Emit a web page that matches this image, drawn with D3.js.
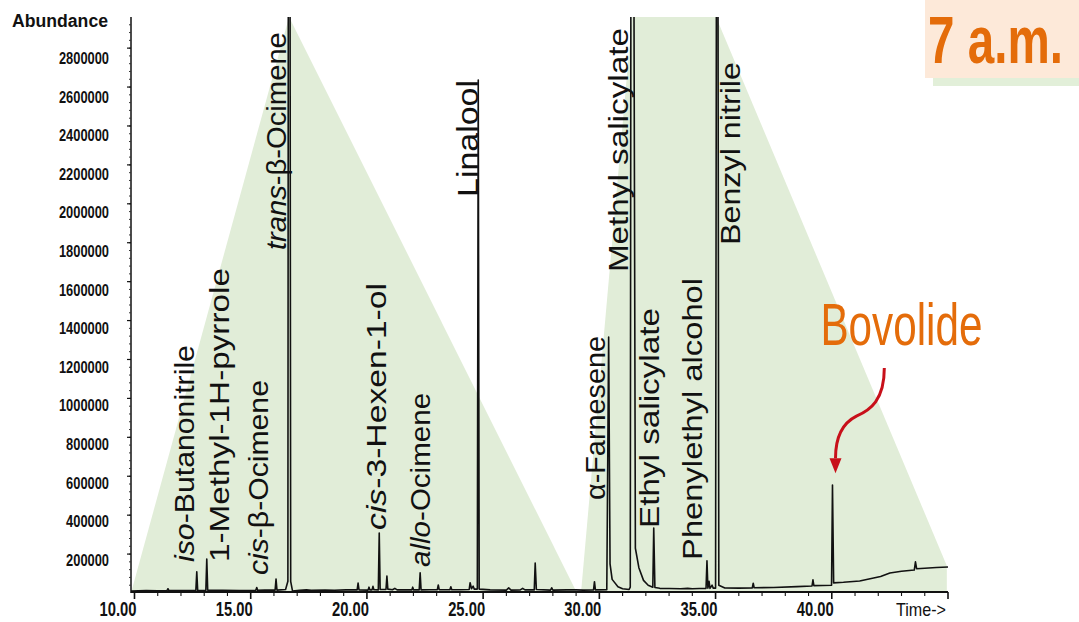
<!DOCTYPE html>
<html>
<head>
<meta charset="utf-8">
<script src="https://cdn.jsdelivr.net/npm/d3@7"></script>
<style>
  html, body { margin: 0; padding: 0; background: #fff; }
  svg { display: block; }
  text { font-family: "Liberation Sans", Arial, Helvetica, sans-serif; }
</style>
</head>
<body>
<svg id="chart" width="1079" height="622"></svg>
<script>
// ---- data -------------------------------------------------------------
// y-axis tick values (abundance)
const yTicks = [200000, 400000, 600000, 800000, 1000000, 1200000, 1400000,
                1600000, 1800000, 2000000, 2200000, 2400000, 2600000, 2800000];
// x-axis tick values (retention time, min)
const xTicks = [10, 15, 20, 25, 30, 35, 40];
const xTickLabels = ["10.00", "15.00", "20.00", "25.00", "30.00", "35.00", "40.00"];

// total ion chromatogram trace: [retention time (min), abundance]
const trace = [
  [9.85, 10000], [10.5, 12000], [11.0, 11000], [11.40, 12000], [11.44, 22000], [11.48, 12000],
  [12.0, 13000], [12.64, 13000], [12.68, 109000], [12.72, 12000],
  [13.07, 13000], [13.11, 175000], [13.15, 14000],
  [13.8, 14000], [14.5, 13000], [15.22, 14000], [15.26, 28000], [15.30, 14000],
  [15.6, 15000], [16.05, 15000], [16.09, 72000], [16.13, 15000],
  [16.5, 18000], [16.60, 60000], [16.62, 3500000], [16.69, 3500000], [16.72, 60000], [16.8, 10000],
  [17.1, 14000], [17.4, 16000], [17.6, 14000], [18.2, 15000], [18.6, 14000], [19.1, 16000],
  [19.58, 16000], [19.62, 51000], [19.66, 16000],
  [20.05, 15000], [20.09, 30000], [20.13, 16000],
  [20.22, 16000], [20.26, 34000], [20.30, 17000],
  [20.49, 16000], [20.53, 308000], [20.57, 18000],
  [20.82, 18000], [20.86, 87000], [20.90, 20000],
  [21.1, 17000], [21.2, 24000], [21.3, 16000],
  [21.93, 16000], [21.97, 30000], [22.01, 16000],
  [22.25, 16000], [22.29, 104000], [22.33, 16000],
  [22.7, 17000], [23.03, 17000], [23.07, 41000], [23.11, 17000],
  [23.57, 17000], [23.61, 32000], [23.65, 17000], [24.0, 17000],
  [24.40, 18000], [24.44, 53000], [24.50, 22000], [24.57, 35000], [24.62, 20000],
  [24.75, 20000], [24.79, 2636000], [24.83, 20000],
  [25.3, 16000], [26.0, 15000], [26.1, 26000], [26.2, 15000],
  [26.6, 16000], [26.7, 24000], [26.8, 16000],
  [27.20, 16000], [27.24, 154000], [27.29, 18000],
  [27.9, 15000], [27.95, 27000], [28.0, 15000], [28.6, 16000], [29.0, 16000], [29.3, 15000],
  [29.75, 16000], [29.79, 58000], [29.83, 16000],
  [30.32, 17000], [30.40, 1315000], [30.46, 150000], [30.55, 70000], [30.8, 32000], [31.0, 22000],
  [31.28, 18000], [31.33, 30000], [31.36, 3500000], [31.48, 3500000], [31.55, 230000],
  [31.7, 130000], [31.9, 65000], [32.1, 40000], [32.3, 30000],
  [32.34, 334000], [32.39, 28000], [32.6, 24000], [33.0, 23000], [33.5, 22000], [33.8, 24000],
  [34.0, 22000], [34.3, 23000], [34.59, 24000], [34.63, 165000], [34.67, 25000],
  [34.72, 60000], [34.76, 24000], [34.85, 40000], [34.9, 25000],
  [35.0, 25000], [35.04, 3500000], [35.10, 3500000], [35.14, 40000], [35.4, 26000], [36.0, 25000],
  [36.58, 26000], [36.62, 50000], [36.66, 27000], [37.5, 28000], [38.5, 33000],
  [39.15, 36000], [39.19, 68000], [39.23, 38000],
  [39.99, 40000], [40.03, 555000], [40.08, 52000],
  [40.5, 55000], [41.2, 62000], [41.8, 77000], [42.1, 85000], [42.5, 103000], [43.0, 112000],
  [43.55, 118000], [43.6, 160000], [43.65, 125000], [44.0, 127000], [44.5, 131000], [45.0, 134000]
];

// identified compounds: [italic prefix, name rest, retention time, label start abundance]
const compounds = [
  ["iso", "-Butanonitrile", 12.56, 159000],
  ["", "1-Methyl-1H-pyrrole", 14.07, 159000],
  ["cis", "-\u03b2-Ocimene", 15.75, 92000],
  ["trans", "-\u03b2-Ocimene", 16.52, 1762000],
  ["cis", "-3-Hexen-1-ol", 20.83, 324000],
  ["allo", "-Ocimene", 22.72, 134000],
  ["", "Linalool", 24.79, 2035000],
  ["", "\u03b1-Farnesene", 30.25, 478000],
  ["", "Methyl salicylate", 31.24, 1649000],
  ["", "Ethyl salicylate", 32.58, 334000],
  ["", "Phenylethyl alcohol", 34.43, 170000],
  ["", "Benzyl nitrile", 36.07, 1788000]
];
// rendered length of each compound label (px)
const labelLengths = [217, 294, 195, 218, 247, 174, 117, 164, 244, 220, 282, 183];

// highlighted regions behind the trace: [retention time, abundance]
const bandLeft = [[9.85, 0], [16.65, 2960000], [29.04, 0]];
const bandRight = [[29.21, 0], [31.41, 2960000], [35.02, 2960000], [44.95, 140000], [44.95, 0]];

// bovolide call-out: arrow path points [retention time, abundance]
const arrowPts = [[42.26, 1156000], [42.26, 991000], [41.66, 940000], [41.06, 909000],
                  [40.46, 873000], [40.16, 796000], [40.16, 693000]];

// ---- layout -----------------------------------------------------------
const svg = d3.select("#chart");
const x = d3.scaleLinear().domain([9.85, 45]).range([131, 948]);
const y = d3.scaleLinear().domain([0, 2960000]).range([593, 17]);
const yLabelPos = d3.scaleLinear().domain([200000, 2800000]).range([560, 58]);

svg.append("defs").append("clipPath").attr("id", "plot")
  .append("rect").attr("x", 131).attr("y", 17).attr("width", 830).attr("height", 580);

// background bands
const poly = d3.line().x(d => x(d[0])).y(d => y(d[1]));
[bandLeft, bandRight].forEach(b => {
  svg.append("path").attr("d", poly(b) + "Z").attr("fill", "#e1edd8");
});

// time-of-day badge
svg.append("rect").attr("x", 933).attr("y", 70).attr("width", 146).attr("height", 16).attr("fill", "#e2efd9");
svg.append("rect").attr("x", 925).attr("y", 0).attr("width", 154).attr("height", 78).attr("fill", "#fde9d9");
const badge = svg.append("text")
  .attr("font-size", 66).attr("font-weight", "bold").attr("fill", "#e46c0a")
  .text("7 a.m.");
const badgeW = badge.node().getComputedTextLength();
badge.attr("transform", `translate(928,63) scale(${135 / badgeW},1)`);

// trace
svg.append("path")
  .attr("clip-path", "url(#plot)")
  .attr("d", d3.line().x(d => x(d[0])).y(d => y(d[1]))(trace))
  .attr("fill", "none").attr("stroke", "#111").attr("stroke-width", 1.6)
  .attr("stroke-linejoin", "round");

// y axis
const yAxisG = svg.append("g").attr("transform", "translate(131,0)");
yAxisG.append("line").attr("x1", 0).attr("x2", 0).attr("y1", 17).attr("y2", 593)
  .attr("stroke", "#111").attr("stroke-width", 1.5);
yAxisG.selectAll("line.minor").data(d3.range(40000, 2960000, 40000)).join("line")
  .attr("class", "minor").attr("x1", -2).attr("x2", 0)
  .attr("y1", d => y(d)).attr("y2", d => y(d)).attr("stroke", "#333").attr("stroke-width", 1);
yAxisG.selectAll("line.major").data(yTicks).join("line")
  .attr("class", "major").attr("x1", -4).attr("x2", 0)
  .attr("y1", d => y(d)).attr("y2", d => y(d)).attr("stroke", "#111").attr("stroke-width", 1.2);
svg.selectAll("text.ylab").data(yTicks).join("text")
  .attr("class", "ylab")
  .attr("x", 109).attr("y", d => yLabelPos(d)).attr("dy", "0.36em")
  .attr("text-anchor", "end").attr("font-size", 16.5).attr("font-weight", "bold").attr("fill", "#111")
  .attr("textLength", d => String(d).length * 7.15).attr("lengthAdjust", "spacingAndGlyphs")
  .text(d => String(d));
svg.append("text").attr("x", 12).attr("y", 27)
  .attr("font-size", 18).attr("font-weight", "bold").attr("fill", "#111")
  .attr("textLength", 96).attr("lengthAdjust", "spacingAndGlyphs")
  .text("Abundance");

// x axis
const xAxisG = svg.append("g");
xAxisG.append("line").attr("x1", 131).attr("x2", 948).attr("y1", 592).attr("y2", 592)
  .attr("stroke", "#111").attr("stroke-width", 2);
xAxisG.selectAll("line.minor").data(d3.range(10, 46, 1)).join("line")
  .attr("x1", d => x(d)).attr("x2", d => x(d))
  .attr("y1", 592).attr("y2", d => d % 5 === 0 ? 599 : 596)
  .attr("stroke", "#111").attr("stroke-width", d => d % 5 === 0 ? 1.6 : 1.1);
xAxisG.selectAll("text.xlab").data(xTicks).join("text")
  .attr("x", d => x(d) + 2).attr("y", 616)
  .attr("text-anchor", "end").attr("font-size", 20).attr("font-weight", "bold").attr("fill", "#111")
  .attr("textLength", 37).attr("lengthAdjust", "spacingAndGlyphs")
  .text((d, i) => xTickLabels[i]);
svg.append("text").attr("x", x(45) - 2).attr("y", 616)
  .attr("text-anchor", "end").attr("font-size", 19).attr("fill", "#111")
  .attr("textLength", 50).attr("lengthAdjust", "spacingAndGlyphs")
  .text("Time->");

// compound labels, rotated to read upward
compounds.forEach((c, i) => {
  const t = svg.append("text")
    .attr("transform", `translate(${x(c[2])},${y(c[3])}) rotate(-90)`)
    .attr("font-size", i === 6 ? 30 : 28).attr("fill", "#111")
    .attr("textLength", labelLengths[i]).attr("lengthAdjust", "spacingAndGlyphs");
  if (c[0]) t.append("tspan").attr("font-style", "italic").text(c[0]);
  t.append("tspan").text(c[1]);
});

// bovolide call-out
const bx = x(39.51), by = y(1274000);
svg.append("text").attr("x", bx).attr("y", by)
  .attr("font-size", 60).attr("fill", "#e46c0a")
  .attr("textLength", 162).attr("lengthAdjust", "spacingAndGlyphs")
  .text("Bovolide");
const ap = arrowPts.map(d => [x(d[0]), y(d[1])]);
svg.append("path")
  .attr("d", `M${ap[0]} C${ap[1]} ${ap[2]} ${ap[3]} C${ap[4]} ${ap[5]} ${ap[6]}`)
  .attr("fill", "none").attr("stroke", "#c8101a").attr("stroke-width", 3);
const tip = [x(40.16), y(555000 + 60000)];
svg.append("path")
  .attr("d", `M${tip[0] - 6},${tip[1] - 15} L${tip[0] + 6},${tip[1] - 15} L${tip[0]},${tip[1]} Z`)
  .attr("fill", "#c8101a");
</script>
</body>
</html>
